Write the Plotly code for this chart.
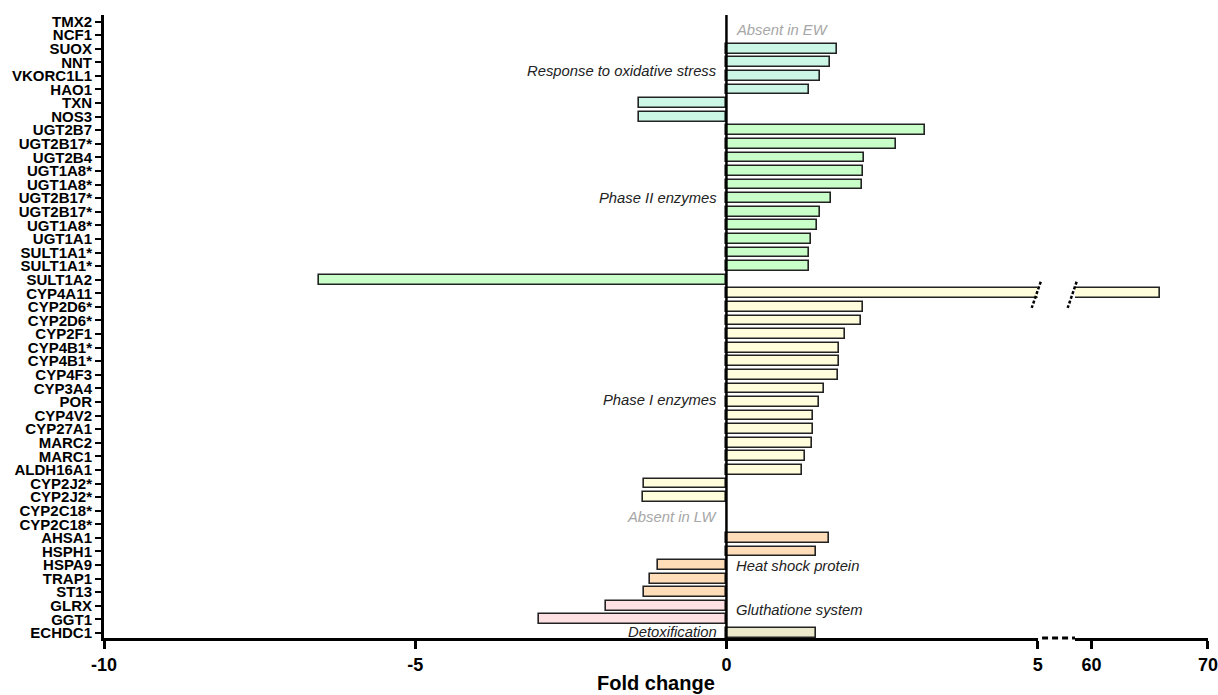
import plotly.graph_objects as go

genes = ["TMX2", "NCF1", "SUOX", "NNT", "VKORC1L1", "HAO1", "TXN", "NOS3",
         "UGT2B7", "UGT2B17*", "UGT2B4", "UGT1A8*", "UGT1A8*", "UGT2B17*", "UGT2B17*",
         "UGT1A8*", "UGT1A1", "SULT1A1*", "SULT1A1*", "SULT1A2",
         "CYP4A11", "CYP2D6*", "CYP2D6*", "CYP2F1", "CYP4B1*", "CYP4B1*", "CYP4F3",
         "CYP3A4", "POR", "CYP4V2", "CYP27A1", "MARC2", "MARC1", "ALDH16A1",
         "CYP2J2*", "CYP2J2*", "CYP2C18*", "CYP2C18*",
         "AHSA1", "HSPH1", "HSPA9", "TRAP1", "ST13",
         "GLRX", "GGT1", "ECHDC1"]
fold = [None, None, 1.77, 1.67, 1.50, 1.32, -1.41, -1.41,
        3.19, 2.72, 2.21, 2.20, 2.17, 1.68, 1.50,
        1.45, 1.36, 1.33, 1.33, -6.54,
        65.9, 2.20, 2.16, 1.90, 1.81, 1.81, 1.80,
        1.56, 1.48, 1.39, 1.39, 1.38, 1.26, 1.21,
        -1.32, -1.34, None, None,
        1.65, 1.44, -1.10, -1.23, -1.32,
        -1.94, -3.01, 1.44]
groups = (["oxidative"] * 8 + ["phase2"] * 12 + ["phase1"] * 18 +
          ["heat"] * 5 + ["glutathione"] * 2 + ["detox"] * 1)

x_ticks_left = [-10, -5, 0, 5]
x_ticks_left_text = ["-10", "-5", "0", "5"]
x_ticks_right = [60, 70]
x_ticks_right_text = ["60", "70"]

group_colors = {
    "oxidative": "#CCF7E6",
    "phase2": "#C9FFC9",
    "phase1": "#FFFDDC",
    "heat": "#FFDDB9",
    "glutathione": "#FFE0E3",
    "detox": "#EBE8CC",
}

n = len(genes)
pos = list(range(n))
colors = [group_colors[g] for g in groups]
bar_line = dict(color="#222222", width=1.6)

fig = go.Figure()
fig.add_trace(go.Bar(
    x=fold, y=pos, orientation="h", width=0.72,
    marker=dict(color=colors, line=bar_line),
    xaxis="x", yaxis="y", showlegend=False, hoverinfo="skip"))

big_idx = [i for i, v in enumerate(fold) if v is not None and v > 5]
fig.add_trace(go.Bar(
    x=[fold[i] for i in big_idx], y=[pos[i] for i in big_idx], orientation="h", width=0.72,
    marker=dict(color=[colors[i] for i in big_idx], line=bar_line),
    xaxis="x2", yaxis="y", showlegend=False, hoverinfo="skip"))

d1_end = 0.8457
d2_start = 0.8795
tickfont = dict(family="Liberation Sans, Arial", size=18, color="black", weight=700)

fig.update_layout(
    width=1218, height=695,
    margin=dict(l=104, r=10, t=15, b=57, autoexpand=False),
    plot_bgcolor="white", paper_bgcolor="white",
    bargap=0,
    xaxis=dict(domain=[0, d1_end], range=[-10, 5], tickvals=x_ticks_left,
               ticktext=x_ticks_left_text,
               showline=True, linewidth=3, linecolor="black", ticks="outside",
               ticklen=8, tickwidth=2.5, tickcolor="black", showgrid=False,
               zeroline=False, tickfont=tickfont, anchor="y",
               ticklabeloverflow="allow"),
    xaxis2=dict(domain=[d2_start, 1], range=[58.57, 70], tickvals=x_ticks_right,
                ticktext=x_ticks_right_text,
                showline=True, linewidth=3, linecolor="black", ticks="outside",
                ticklen=8, tickwidth=2.5, tickcolor="black", showgrid=False,
                zeroline=False, tickfont=tickfont, anchor="y",
                ticklabeloverflow="allow"),
    yaxis=dict(range=[n - 1 + 0.37, -0.48], tickvals=pos, ticktext=genes,
               showline=True, linewidth=3, linecolor="black", ticks="outside",
               ticklen=6, tickwidth=2, tickcolor="black", showgrid=False,
               zeroline=False, anchor="x",
               tickfont=dict(family="Liberation Sans, Arial", size=15, color="black", weight=700)),
)

# zero line
fig.add_shape(type="line", xref="x", yref="paper", x0=0, x1=0, y0=0, y1=1,
              line=dict(color="black", width=2.5), layer="above")
# axis break dashes
fig.add_shape(type="line", xref="paper", yref="paper", x0=d1_end + 0.004, x1=d2_start, y0=0, y1=0,
              line=dict(color="black", width=3, dash="6px,4px"), layer="above")
cyp_i = genes.index("CYP4A11")
for xt, xb in [(0.8485, 0.8403), (0.8810, 0.8729)]:
    fig.add_shape(type="line", xref="paper", yref="y", x0=xt, x1=xb,
                  y0=cyp_i - 0.85, y1=cyp_i + 1.08,
                  line=dict(color="black", width=2.5, dash="3px,2px"), layer="above")

afont = dict(family="Liberation Sans, Arial", size=14.8, color="#222222")
gfont = dict(family="Liberation Sans, Arial", size=14.8, color="#A6A6A6")
labels = [
    ("Absent in EW", 0.63, "left", gfont),
    ("Response to oxidative stress", 3.64, "right", afont),
    ("Phase II enzymes", 13.0, "right", afont),
    ("Phase I enzymes", 27.85, "right", afont),
    ("Absent in LW", 36.5, "right", gfont),
    ("Heat shock protein", 40.1, "left", afont),
    ("Gluthatione system", 43.3, "left", afont),
    ("Detoxification", 44.95, "right", afont),
]
for txt, yv, side, f in labels:
    fig.add_annotation(text="<i>" + txt + "</i>", x=0, y=yv, xref="x", yref="y",
                       xanchor="left" if side == "left" else "right",
                       xshift=8 if side == "left" else -7,
                       showarrow=False, font=f)

fig.add_annotation(text="<b>Fold change</b>", xref="paper", yref="paper",
                   x=0.5, y=0, yshift=-45, xanchor="center", yanchor="middle",
                   showarrow=False,
                   font=dict(family="Liberation Sans, Arial", size=20, color="black"))

fig.write_html("out.html", config={"displayModeBar": False},
               post_script="document.body.style.margin='0';document.body.style.padding='0';")
